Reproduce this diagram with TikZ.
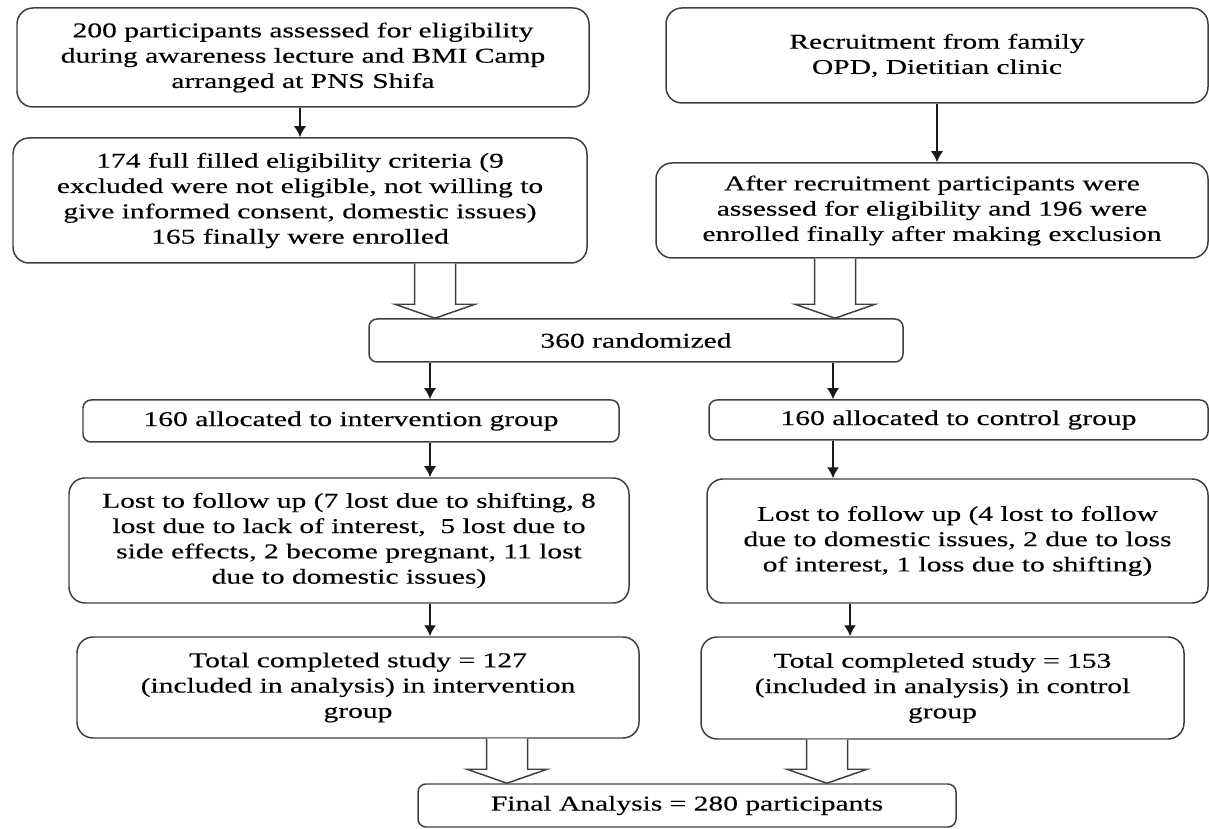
\documentclass[tikz,border=0pt]{standalone}
\usepackage{tikz}
\usepackage{fontspec}
\setmainfont{Liberation Serif}[FakeStretch=1.4,FakeBold=0.3]
\usetikzlibrary{calc,arrows.meta,positioning}
\tikzstyle{box}=[draw=black!75, line width=0.85pt, rounded corners=0.32cm, align=center, inner sep=2pt, font=\fontsize{12}{14.4}\selectfont]
\tikzstyle{thin box}=[box, rounded corners=0.16cm]
\tikzstyle{l1}=[line width=0.85, black!90]
\tikzstyle{hollow}=[draw=black!75, line width=0.85pt, fill=white, line join=miter]
\newcommand{\blockarrow}[2]{%
  \draw[hollow] let \p1=(#1), \p2=(#2) in
    ({\x1-0.41cm},\y1) -- ({\x1-0.41cm},{\y2+0.28cm}) -- ({\x1-0.8cm},{\y2+0.28cm}) -- (\x1,\y2)
    -- ({\x1+0.8cm},{\y2+0.28cm}) -- ({\x1+0.41cm},{\y2+0.28cm}) -- ({\x1+0.41cm},\y1);
}

\begin{document}
\begin{tikzpicture}[node distance=1cm, on grid, >={Latex[length=2.2mm,width=2.4mm]}]
    \useasboundingbox (0,0) rectangle (24.18,-16.58);

    \node[box, minimum width=11.44cm, minimum height=1.98cm] (camp) at (6.06,-1.15)
      {200 participants assessed for eligibility\\during awareness lecture and BMI Camp\\arranged at PNS Shifa};
    \node[box, minimum width=11.48cm, minimum height=2.5cm] (elig) at (6.0,-4.01)
      {174 full filled eligibility criteria (9\\excluded were not eligible, not willing to\\give informed consent, domestic issues)\\165 finally were enrolled};
    \node[box, minimum width=10.84cm, minimum height=1.9cm] (opd) at (18.74,-1.11)
      {Recruitment from family\\OPD, Dietitian clinic};
    \node[box, minimum width=11.04cm, minimum height=1.9cm] (enrol) at (18.64,-4.21)
      {After recruitment participants were\\assessed for eligibility and 196 were\\enrolled finally after making exclusion};

    \node[thin box, minimum width=10.68cm, minimum height=0.86cm] (rand) at (12.72,-6.81) {360 randomized};

    \node[thin box, minimum width=10.72cm, minimum height=0.84cm] (int) at (7.02,-8.42) {160 allocated to intervention group};
    \node[thin box, minimum width=9.98cm, minimum height=0.8cm] (ctl) at (19.17,-8.4) {160 allocated to control group};

    \node[box, minimum width=11.2cm, minimum height=2.5cm] (lostI) at (6.98,-10.81)
      {Lost to follow up (7 lost due to shifting, 8\\lost due to lack of interest,\ \ 5 lost due to\\side effects, 2 become pregnant, 11 lost\\due to domestic issues)};
    \node[box, minimum width=10.02cm, minimum height=2.48cm] (lostC) at (19.15,-10.82)
      {Lost to follow up (4 lost to follow\\due to domestic issues, 2 due to loss\\of interest, 1 loss due to shifting)};

    \node[box, minimum width=11.24cm, minimum height=2.02cm] (totI) at (7.16,-13.75)
      {Total completed study = 127\\(included in analysis) in intervention\\group};
    \node[box, minimum width=9.66cm, minimum height=2.04cm] (totC) at (18.85,-13.76)
      {Total completed study = 153\\(included in analysis) in control\\group};

    \node[thin box, minimum width=10.76cm, minimum height=0.86cm] (final) at (13.74,-16.11) {Final Analysis = 280 participants};

    \coordinate (xL) at (8.6,0);
    \coordinate (xR) at (16.66,0);
    \coordinate (xR2) at (17.0,0);

    \draw[l1, ->] (camp.south -| elig.north) -- (elig.north);
    \draw[l1, ->] (opd.south) -- (opd.south |- enrol.north);
    \draw[l1, ->] (xL |- rand.south) -- (xL |- int.north);
    \draw[l1, ->] (xR |- rand.south) -- (xR |- ctl.north);
    \draw[l1, ->] (xL |- int.south) -- (xL |- lostI.north);
    \draw[l1, ->] (xR |- ctl.south) -- (xR |- lostC.north);
    \draw[l1, ->] (xL |- lostI.south) -- (xL |- totI.north);
    \draw[l1, ->] (xR2 |- lostC.south) -- (xR2 |- totC.north);

    \coordinate (h1) at (8.7,0);   \coordinate (h2) at (16.7,0);
    \coordinate (h3) at (10.14,0); \coordinate (h4) at (16.54,0);
    \blockarrow{h1 |- elig.south}{h1 |- rand.north}
    \blockarrow{h2 |- enrol.south}{h2 |- rand.north}
    \blockarrow{h3 |- totI.south}{h3 |- final.north}
    \blockarrow{h4 |- totC.south}{h4 |- final.north}

\end{tikzpicture}
\end{document}
